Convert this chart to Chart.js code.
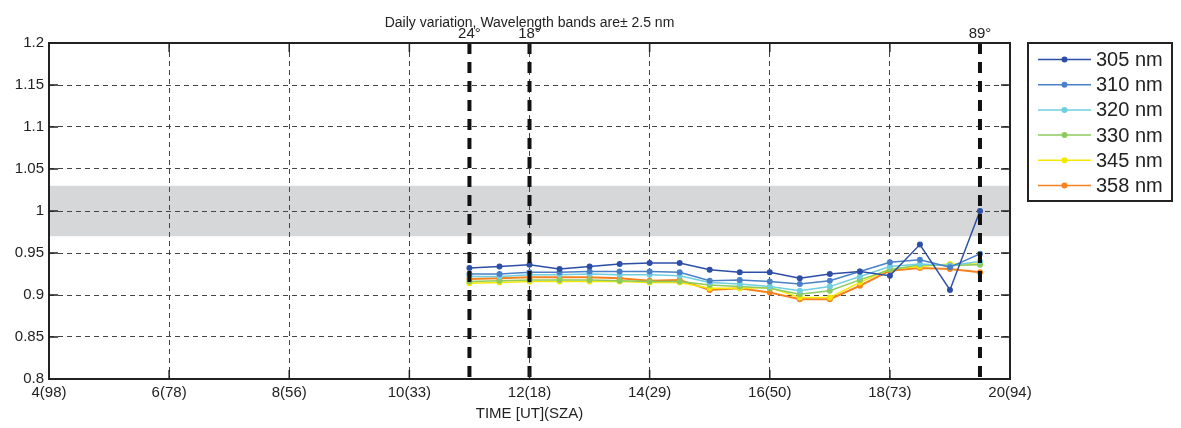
<!DOCTYPE html>
<html>
<head>
<meta charset="utf-8">
<title>Daily variation</title>
<script src="https://cdn.jsdelivr.net/npm/chart.js@4/dist/chart.umd.min.js"></script>
<style>
  html, body { margin: 0; padding: 0; background: #fff; }
  #wrap { width: 1181px; height: 428px; }
</style>
</head>
<body>
<div id="wrap"><canvas id="myChart" width="1181" height="428"></canvas></div>
<script>
// measurement times (UT hours)
const hours = [11, 11.5, 12, 12.5, 13, 13.5, 14, 14.5, 15, 15.5, 16, 16.5, 17, 17.5, 18, 18.5, 19, 19.5];

// ratio per wavelength band
const v305 = [0.932, 0.934, 0.936, 0.931, 0.934, 0.937, 0.938, 0.938, 0.930, 0.927, 0.927, 0.920, 0.925, 0.928, 0.923, 0.960, 0.906, 1.000];
const v310 = [0.925, 0.925, 0.927, 0.927, 0.928, 0.928, 0.928, 0.927, 0.917, 0.918, 0.916, 0.913, 0.917, 0.928, 0.939, 0.942, 0.933, 0.949];
const v320 = [0.922, 0.922, 0.924, 0.924, 0.925, 0.924, 0.924, 0.923, 0.915, 0.913, 0.910, 0.905, 0.910, 0.922, 0.934, 0.937, 0.935, 0.940];
const v330 = [0.916, 0.917, 0.918, 0.918, 0.918, 0.917, 0.916, 0.916, 0.912, 0.910, 0.908, 0.901, 0.905, 0.918, 0.930, 0.936, 0.935, 0.936];
const v345 = [0.914, 0.915, 0.916, 0.916, 0.916, 0.916, 0.915, 0.915, 0.908, 0.908, 0.909, 0.897, 0.897, 0.915, 0.931, 0.934, 0.937, 0.937];
const v358 = [0.919, 0.920, 0.921, 0.921, 0.921, 0.920, 0.917, 0.918, 0.906, 0.908, 0.903, 0.895, 0.895, 0.911, 0.929, 0.932, 0.931, 0.927];

const bandLabels = ["305 nm", "310 nm", "320 nm", "330 nm", "345 nm", "358 nm"];
const bandColors = ["#2d4ea6", "#4a80c8", "#6fcfe0", "#8bcb5e", "#f5e800", "#f5821f"];

// x tick labels: UT hour (solar zenith angle)
const tickHours = [4, 6, 8, 10, 12, 14, 16, 18, 20];
const tickSza = [98, 78, 56, 33, 18, 29, 50, 73, 94];

// SZA markers drawn as thick dashed lines
const markHours = [11, 12, 19.5];
const markText = ["24°", "18°", "89°"];

// shaded reference band
const bandLow = 0.97;
const bandHigh = 1.03;

const FONT = "'Liberation Sans', Arial, Helvetica, sans-serif";

function pts(vals) {
  return hours.map((h, i) => ({ x: h, y: vals[i] }));
}

const allSeries = [v305, v310, v320, v330, v345, v358];
const datasets = allSeries.map((vals, i) => ({
  label: bandLabels[i],
  data: pts(vals),
  borderColor: bandColors[i],
  backgroundColor: bandColors[i],
  borderWidth: i === 5 ? 2 : 1.5,
  pointRadius: 3,
  pointBorderWidth: 0,
  pointBackgroundColor: bandColors[i],
  tension: 0,
  fill: false
}));

const decor = {
  id: "decor",
  beforeDraw(chart) {
    const { ctx, chartArea: a, scales: { y } } = chart;
    ctx.save();
    ctx.fillStyle = "#d6d7d9";
    const yt = y.getPixelForValue(bandHigh), yb = y.getPixelForValue(bandLow);
    ctx.fillRect(a.left, yt, a.right - a.left, yb - yt);
    ctx.restore();
  },
  afterDraw(chart) {
    const { ctx, chartArea: a, scales: { x, y } } = chart;
    ctx.save();

    // thick dashed SZA lines
    ctx.strokeStyle = "#111";
    ctx.lineWidth = 4;
    ctx.setLineDash([11, 8]);
    markHours.forEach(h => {
      const px = x.getPixelForValue(h);
      ctx.beginPath();
      ctx.moveTo(px, a.top);
      ctx.lineTo(px, a.bottom);
      ctx.stroke();
    });
    ctx.setLineDash([]);

    // frame and inward tick marks
    ctx.strokeStyle = "#222";
    ctx.lineWidth = 2;
    ctx.strokeRect(a.left, a.top, a.right - a.left, a.bottom - a.top);
    ctx.lineWidth = 1.5;
    ctx.beginPath();
    tickHours.forEach(h => {
      const px = x.getPixelForValue(h);
      ctx.moveTo(px, a.top); ctx.lineTo(px, a.top + 9);
      ctx.moveTo(px, a.bottom); ctx.lineTo(px, a.bottom - 9);
    });
    y.ticks.forEach(t => {
      const py = y.getPixelForValue(t.value);
      ctx.moveTo(a.left, py); ctx.lineTo(a.left + 9, py);
      ctx.moveTo(a.right, py); ctx.lineTo(a.right - 9, py);
    });
    ctx.stroke();

    // title and axis title
    ctx.fillStyle = "#222";
    ctx.textAlign = "center";
    ctx.textBaseline = "alphabetic";
    ctx.font = "14px " + FONT;
    ctx.fillText("Daily variation, Wavelength bands are\u00b1 2.5 nm", (a.left + a.right) / 2, 27);
    ctx.font = "15px " + FONT;
    ctx.fillText("TIME [UT](SZA)", (a.left + a.right) / 2, 418);

    // SZA marker labels
    ctx.font = "15px " + FONT;
    markHours.forEach((h, i) => {
      ctx.fillText(markText[i], x.getPixelForValue(h), 38);
    });

    // legend box
    const lx = 1028, ly = 43, lw = 144, lh = 158;
    ctx.fillStyle = "#fff";
    ctx.fillRect(lx, ly, lw, lh);
    ctx.strokeStyle = "#222";
    ctx.lineWidth = 2;
    ctx.strokeRect(lx, ly, lw, lh);
    ctx.textAlign = "left";
    ctx.textBaseline = "middle";
    ctx.font = "20px " + FONT;
    chart.data.datasets.forEach((ds, i) => {
      const ry = 59.5 + i * 25.2;
      ctx.strokeStyle = ds.borderColor;
      ctx.lineWidth = 1.5;
      ctx.beginPath();
      ctx.moveTo(lx + 10, ry);
      ctx.lineTo(lx + 63, ry);
      ctx.stroke();
      ctx.fillStyle = ds.borderColor;
      ctx.beginPath();
      ctx.arc(lx + 36.5, ry, 3, 0, Math.PI * 2);
      ctx.fill();
      ctx.fillStyle = "#222";
      ctx.fillText(ds.label, lx + 68, ry + 1);
    });
    ctx.restore();
  }
};

new Chart("myChart", {
  type: "line",
  data: { datasets: datasets },
  options: {
    responsive: false,
    animation: false,
    devicePixelRatio: 1,
    layout: { padding: { top: 43, right: 171, left: 0, bottom: 0 } },
    plugins: {
      legend: { display: false },
      tooltip: { enabled: false }
    },
    scales: {
      x: {
        type: "linear",
        min: 4,
        max: 20,
        afterFit(scale) { scale.height = 49; },
        afterBuildTicks(scale) { scale.ticks = tickHours.map(v => ({ value: v })); },
        ticks: {
          autoSkip: false,
          maxRotation: 0,
          padding: 5,
          color: "#222",
          font: { family: FONT, size: 15 },
          callback: (v) => {
            const k = tickHours.indexOf(v);
            return k >= 0 ? v + "(" + tickSza[k] + ")" : "";
          }
        },
        grid: { color: "#444", lineWidth: 1, drawTicks: false },
        border: { display: false, dash: [5, 4] }
      },
      y: {
        min: 0.8,
        max: 1.2,
        afterFit(scale) { scale.width = 49; },
        ticks: {
          stepSize: 0.05,
          padding: 5,
          color: "#222",
          font: { family: FONT, size: 15 },
          callback: (v) => String(Number(v.toFixed(2)))
        },
        grid: { color: "#444", lineWidth: 1, drawTicks: false },
        border: { display: false, dash: [5, 4] }
      }
    }
  },
  plugins: [decor]
});
</script>
</body>
</html>
